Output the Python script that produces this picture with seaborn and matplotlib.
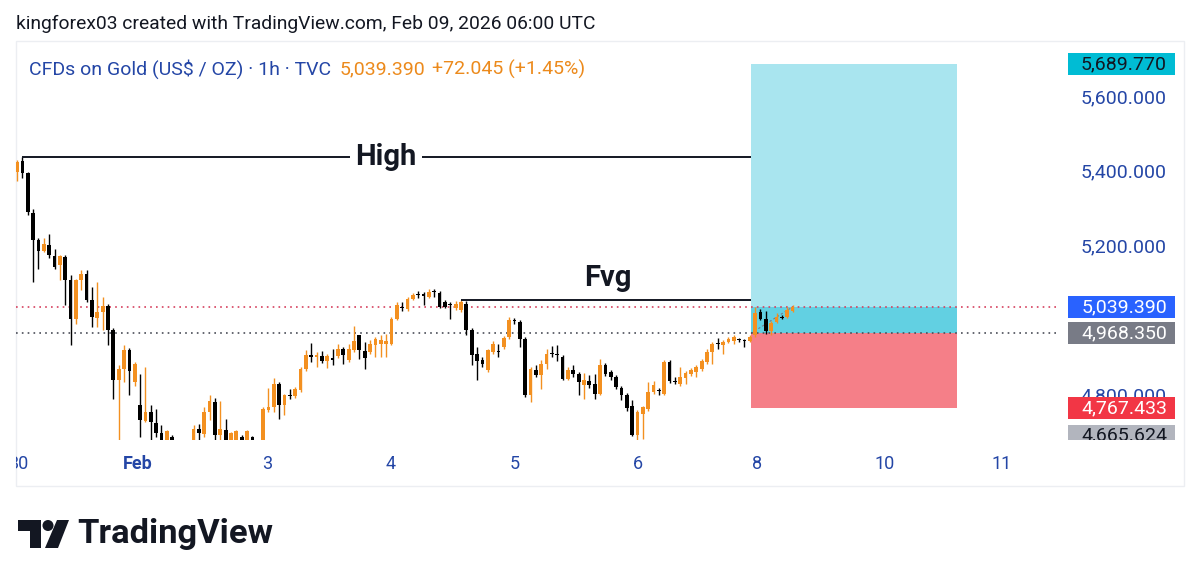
import numpy as np
import pandas as pd
import matplotlib
matplotlib.use('Agg')
import matplotlib.pyplot as plt
from matplotlib.patches import Rectangle, Polygon, Circle
import seaborn as sns

# hourly candles, Jan 30 -> Feb 9 06:00 UTC
opens = [5401, 5431, 5399, 5291, 5219, 5189, 5206, 5176, 5152, 5173,
         5112, 5007, 5112, 5128, 5058, 5010, 5026, 5042, 4977, 4843,
         4872, 4924, 4838, 4776, 4733, 4757, 4728, 4701, 4665, 4690,
         4672, 4600, 4520, 4600, 4711, 4698, 4757, 4784, 4695, 4709,
         4650, 4660, 4690, 4650, 4690, 4670, 4650, 4762, 4770, 4832,
         4776, 4803, 4800, 4816, 4872, 4910, 4905, 4907, 4894, 4902,
         4907, 4926, 4897, 4924, 4964, 4921, 4918, 4937, 4940, 4940,
         4940, 5007, 5039, 5034, 5060, 5074, 5074, 5066, 5082, 5077,
         5052, 5047, 5036, 5031, 5047, 4977, 4913, 4897, 4870, 4918,
         4921, 4932, 4958, 5004, 4999, 4953, 4803, 4870, 4856, 4886,
         4915, 4913, 4905, 4846, 4870, 4859, 4830, 4840, 4832, 4805,
         4883, 4864, 4851, 4822, 4803, 4773, 4695, 4752, 4765, 4811,
         4816, 4805, 4891, 4840, 4832, 4848, 4859, 4864, 4872, 4891,
         4918, 4942, 4937, 4945, 4948, 4953, 4950, 4948, 4964, 5026,
         5007, 4975, 4999, 5012, 5012, 5028]
highs = [5434, 5442, 5401, 5302, 5224, 5224, 5235, 5195, 5179, 5179,
         5125, 5114, 5138, 5138, 5093, 5106, 5066, 5047, 4982, 4883,
         4937, 4929, 4891, 4859, 4878, 4776, 4765, 4722, 4709, 4695,
         4675, 4610, 4640, 4722, 4725, 4770, 4803, 4795, 4787, 4738,
         4703, 4708, 4695, 4708, 4692, 4676, 4770, 4821, 4848, 4838,
         4805, 4819, 4824, 4878, 4924, 4942, 4918, 4921, 4913, 4926,
         4940, 4932, 4940, 4988, 4964, 4945, 4950, 4958, 4964, 4966,
         5012, 5052, 5052, 5066, 5077, 5082, 5079, 5087, 5087, 5082,
         5058, 5052, 5055, 5058, 5055, 4982, 4932, 4905, 4926, 4948,
         4940, 4961, 5012, 5010, 5004, 4958, 4878, 4883, 4897, 4926,
         4934, 4937, 4910, 4878, 4883, 4864, 4862, 4856, 4859, 4899,
         4889, 4870, 4856, 4827, 4808, 4789, 4762, 4773, 4838, 4840,
         4821, 4897, 4897, 4851, 4878, 4867, 4875, 4883, 4899, 4926,
         4945, 4956, 4950, 4958, 4964, 4956, 4953, 4964, 5039, 5034,
         5028, 5001, 5023, 5017, 5039, 5044]
lows = [5377, 5385, 5286, 5106, 5141, 5187, 5171, 5141, 5112, 5044,
        4937, 4993, 5085, 5052, 4985, 4985, 4977, 4937, 4792, 4679,
        4838, 4803, 4827, 4690, 4730, 4679, 4690, 4640, 4620, 4650,
        4580, 4480, 4500, 4590, 4660, 4690, 4736, 4660, 4665, 4640,
        4630, 4640, 4620, 4630, 4650, 4640, 4640, 4757, 4757, 4738,
        4749, 4792, 4795, 4811, 4867, 4891, 4878, 4889, 4875, 4883,
        4902, 4886, 4891, 4918, 4899, 4872, 4913, 4905, 4905, 4905,
        4937, 5004, 5028, 5028, 5058, 5063, 5044, 5063, 5066, 5036,
        5036, 5007, 5031, 5026, 4964, 4883, 4843, 4878, 4864, 4913,
        4905, 4926, 4953, 4993, 4932, 4797, 4784, 4851, 4819, 4872,
        4905, 4894, 4843, 4843, 4851, 4803, 4792, 4822, 4792, 4803,
        4854, 4843, 4819, 4789, 4760, 4693, 4682, 4685, 4760, 4805,
        4803, 4803, 4835, 4832, 4827, 4832, 4854, 4851, 4867, 4886,
        4886, 4926, 4913, 4942, 4940, 4945, 4932, 4945, 4958, 5004,
        4966, 4964, 4996, 5007, 5010, 5025]
closes = [5428, 5399, 5294, 5219, 5189, 5208, 5179, 5146, 5176, 5112,
          5007, 5112, 5128, 5058, 5012, 5026, 5042, 4977, 4843, 4872,
          4924, 4867, 4886, 4736, 4757, 4730, 4701, 4670, 4706, 4675,
          4600, 4520, 4600, 4711, 4701, 4757, 4787, 4695, 4711, 4670,
          4701, 4706, 4640, 4706, 4670, 4660, 4765, 4770, 4832, 4776,
          4803, 4800, 4819, 4872, 4910, 4905, 4910, 4894, 4907, 4897,
          4926, 4910, 4926, 4948, 4924, 4902, 4940, 4953, 4950, 4948,
          5007, 5044, 5036, 5060, 5071, 5071, 5069, 5079, 5079, 5039,
          5039, 5044, 5047, 5052, 4977, 4910, 4894, 4886, 4924, 4940,
          4918, 4956, 5004, 5001, 4953, 4803, 4872, 4856, 4886, 4913,
          4913, 4910, 4846, 4870, 4859, 4838, 4843, 4830, 4805, 4883,
          4859, 4851, 4824, 4803, 4768, 4695, 4757, 4770, 4811, 4830,
          4813, 4891, 4840, 4838, 4851, 4862, 4870, 4878, 4894, 4918,
          4940, 4940, 4945, 4953, 4958, 4950, 4948, 4958, 5023, 5007,
          4975, 4996, 5012, 5010, 5031, 5039.39]

day_ticks = [0.2, 22.6, 46.7, 69.9, 93.1, 116.1, 138.3, 162.2, 184.1]
day_labels = ['30', 'Feb', '3', '4', '5', '6', '8', '10', '11']
price_ticks = [5600, 5400, 5200, 4800]

prev_close = 4967.345
entry_price = 4968.35
target_price = 5689.77
stop_price = 4767.433
scale_low = 4665.624
entry_bar = 137.2
tool_end = 175.7

UP = '#f39020'
DOWN = '#000000'
BLUE = '#2446a6'
INK = '#131722'

sns.set_theme(style='white')
plt.rcParams['font.family'] = ['Roboto', 'DejaVu Sans']

df = pd.DataFrame({'o': opens, 'h': highs, 'l': lows, 'c': closes})
df['up'] = df['c'] >= df['o']
col = np.where(df['up'], UP, DOWN)
last = df['c'].iloc[-1]

fig = plt.figure(figsize=(12, 5.82), dpi=100)
bg = fig.add_axes([0, 0, 1, 1], zorder=0)
bg.set_xlim(0, 1200); bg.set_ylim(582, 0); bg.axis('off')

ylo, yhi = 4682.5, 5752.5
ax = fig.add_axes([16/1200, 1-440/582, 1044/1200, 399/582], zorder=2)
ax.set_xlim(-0.2, 195); ax.set_ylim(ylo, yhi)
ax.patch.set_alpha(0)
for s in ax.spines.values():
    s.set_visible(False)
ax.set_xticks([]); ax.set_yticks([])

# long position tool
w = tool_end - entry_bar
ax.add_patch(Rectangle((entry_bar, entry_price), w, target_price-entry_price, fc='#a9e5ef', ec='none', zorder=1))
ax.add_patch(Rectangle((entry_bar, entry_price), w, last-entry_price, fc='#62d0e2', ec='none', zorder=1.2))
ax.add_patch(Rectangle((entry_bar, stop_price), w, entry_price-stop_price, fc='#f57f88', ec='none', zorder=1))
ax.plot([entry_bar, len(df)-1], [entry_price, last], color='#787b86', ls=(0, (2, 2)), lw=0.8, zorder=1.5)

# levels
ax.axhline(last, color='#d6405e', ls=(0, (1, 2.5)), lw=1.2, zorder=2)
ax.axhline(entry_price, color='#4a4d57', ls=(0, (1, 2.5)), lw=1.2, zorder=2)

# candles
body = df['c'] - df['o']
body = np.where(body.abs() < 2.5, np.where(body >= 0, 2.5, -2.5), body)
ax.vlines(df.index, df['l'], df['h'], colors=col, lw=1.0, zorder=3)
ax.bar(df.index, body, bottom=df['o'], width=0.7, color=col, linewidth=0, zorder=4)

# annotations
ax.hlines(df['h'].iloc[1], 1, entry_bar, color=INK, lw=1.4, zorder=5)
ax.text(69, df['h'].iloc[1], 'High', ha='center', va='center', fontsize=21, fontweight='bold',
        color=INK, zorder=6, bbox=dict(fc='white', ec='none', pad=4))
ax.hlines(df['h'].iloc[83], 83, entry_bar, color=INK, lw=1.4, zorder=5)
ax.annotate('Fvg', xy=(110.5, df['h'].iloc[83]), xytext=(0, 6), textcoords='offset points',
            ha='center', va='bottom', fontsize=21, fontweight='bold', color=INK, zorder=6)

# price scale
axr = fig.add_axes([1060/1200, 1-440/582, 124/1200, 399/582], zorder=3)
axr.set_xlim(0, 124); axr.set_ylim(ylo, yhi); axr.axis('off')
for p in price_ticks:
    axr.text(107, p, f'{p:,.3f}', ha='right', va='center', fontsize=14, color=BLUE)
bh = 59
tags = [(target_price, target_price, '#00bcd4', INK),
        (last, last, '#2962ff', 'white'),
        (entry_price, entry_price, '#787b86', 'white'),
        (stop_price, stop_price, '#f23645', 'white'),
        (scale_low, ylo + bh*0.2, '#b2b5be', INK)]
for val, yc, fc, tc in tags:
    axr.add_patch(Rectangle((8, yc-bh/2), 107, bh, fc=fc, ec='none', zorder=5))
    axr.text(107, yc, f'{val:,.3f}', ha='right', va='center', fontsize=14, color=tc, zorder=6,
             clip_on=True)

# time scale
axt = fig.add_axes([16/1200, 1-486/582, 1044/1200, 46/582], zorder=3)
axt.set_xlim(-0.2, 195); axt.set_ylim(0, 1); axt.axis('off')
for t, lab in zip(day_ticks, day_labels):
    axt.text(t, 0.48, lab, ha='center', va='center', fontsize=13, color=BLUE,
             fontweight='bold' if lab == 'Feb' else 'normal', clip_on=True)

# frame, header, legend, logo
bg.add_patch(Rectangle((16, 41), 1168, 445, fill=False, ec='#eceef2', lw=1))
bg.text(16, 24, 'kingforex03 created with TradingView.com, Feb 09, 2026 06:00 UTC',
        va='center', fontsize=13.9, color=INK)
bg.text(29, 69, 'CFDs on Gold (US$ / OZ) · 1h · TVC', va='center', fontsize=14, color=BLUE)
bg.text(340, 69, f'{last:,.3f}', va='center', fontsize=14, color='#ec8a1c')
chg = last - prev_close
bg.text(432, 69, f'+{chg:,.3f} (+{chg/prev_close*100:.2f}%)', va='center', fontsize=14, color='#ec8a1c')

bg.add_patch(Polygon([(18, 520), (41, 520), (41, 548), (30, 548), (30, 531), (18, 531)], fc=INK, ec='none'))
bg.add_patch(Circle((48, 525.5), 5.5, fc=INK, ec='none'))
bg.add_patch(Polygon([(57, 520), (69, 520), (58, 548), (45, 548)], fc=INK, ec='none'))
bg.text(77, 534, 'TradingView', va='center', fontsize=24.8, fontweight='bold', color=INK)

fig.savefig('out.png', dpi=100)
